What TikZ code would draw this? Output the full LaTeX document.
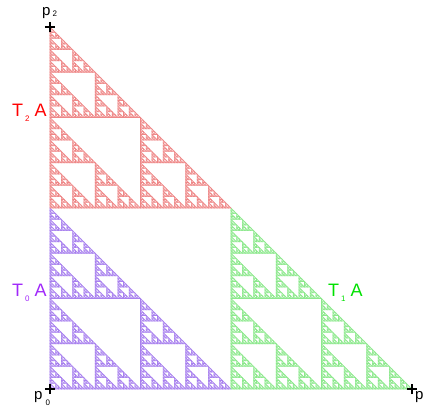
\documentclass[tikz,border=0pt]{standalone}
\usepackage{fontspec}
\setmainfont{Liberation Sans}
\usetikzlibrary{shapes.misc,positioning}
\definecolor{redline}{RGB}{238,135,135}
\definecolor{redfill}{RGB}{250,200,200}
\definecolor{purpleline}{RGB}{168,128,238}
\definecolor{purplefill}{RGB}{215,198,250}
\definecolor{greenline}{RGB}{140,232,140}
\definecolor{greenfill}{RGB}{200,246,200}
\definecolor{tred}{RGB}{255,0,0}
\definecolor{tpurple}{RGB}{160,40,250}
\definecolor{tgreen}{RGB}{0,225,0}

% #1 depth, #2 x, #3 y (right-angle corner), #4 leg length
\newcommand\sierp[4]{%
  \ifnum#1=0
    \filldraw (#2,#3) -- ++(#4,0) -- ++(-#4,#4) -- cycle;
  \else
    \begingroup
    \pgfmathsetmacro\sx{#2}%
    \pgfmathsetmacro\sy{#3}%
    \pgfmathsetmacro\hs{#4/2}%
    \pgfmathsetmacro\xm{\sx+\hs}%
    \pgfmathsetmacro\ym{\sy+\hs}%
    \edef\nd{\the\numexpr#1-1\relax}%
    \sierp{\nd}{\sx}{\sy}{\hs}%
    \sierp{\nd}{\xm}{\sy}{\hs}%
    \sierp{\nd}{\sx}{\ym}{\hs}%
    \endgroup
  \fi}

\tikzset{
  vertexmark/.style={cross out,draw=black,line width=2.4pt,minimum size=5pt,
                     inner sep=0pt,rotate=45},
  ptlabel/.style={font=\fontsize{15}{15}\selectfont,inner sep=0pt,anchor=base west},
  tlabel/.style={font=\fontsize{18}{18}\selectfont,inner sep=0pt,anchor=base west},
}
\newcommand\subs[2]{\raisebox{#1}{\fontsize{8}{8}\selectfont #2}}

\begin{document}
\begin{tikzpicture}[x=1pt,y=1pt]
\useasboundingbox (0,0) rectangle (425,411);
%% the three copies
\begin{scope}[fill=purplefill,draw=purpleline,line width=0.6pt]
  \sierp{6}{50}{22}{181}
\end{scope}
\begin{scope}[fill=greenfill,draw=greenline,line width=0.6pt]
  \sierp{6}{231}{22}{181}
\end{scope}
\begin{scope}[fill=redfill,draw=redline,line width=0.6pt]
  \sierp{6}{50}{203}{181}
\end{scope}
%% vertices
\node[vertexmark] (p0) at (50,22) {};
\node[vertexmark] (p1) at (412,22) {};
\node[vertexmark] (p2) at (50,384) {};
%% vertex labels
\node[ptlabel] (p0lbl) at (34,11) {p\hspace{3pt}\subs{-6pt}{0}};
\node[ptlabel] (p1lbl) at (415,11) {p\hspace{3pt}\subs{-6pt}{1}};
\node[ptlabel] (p2lbl) at (42,395) {p\hspace{2pt}\subs{-1pt}{2}};
%% copy labels
\node[tlabel,text=tred] (t2) at (12,294) {T\hspace{2pt}\subs{-5pt}{2}\hspace{5pt}A};
\node[tlabel,text=tpurple] (t0) at (12,114) {T\hspace{2pt}\subs{-5pt}{0}\hspace{5pt}A};
\node[tlabel,text=tgreen] (t1) at (328,114) {T\hspace{2pt}\subs{-5pt}{1}\hspace{5pt}A};
\end{tikzpicture}
\end{document}
